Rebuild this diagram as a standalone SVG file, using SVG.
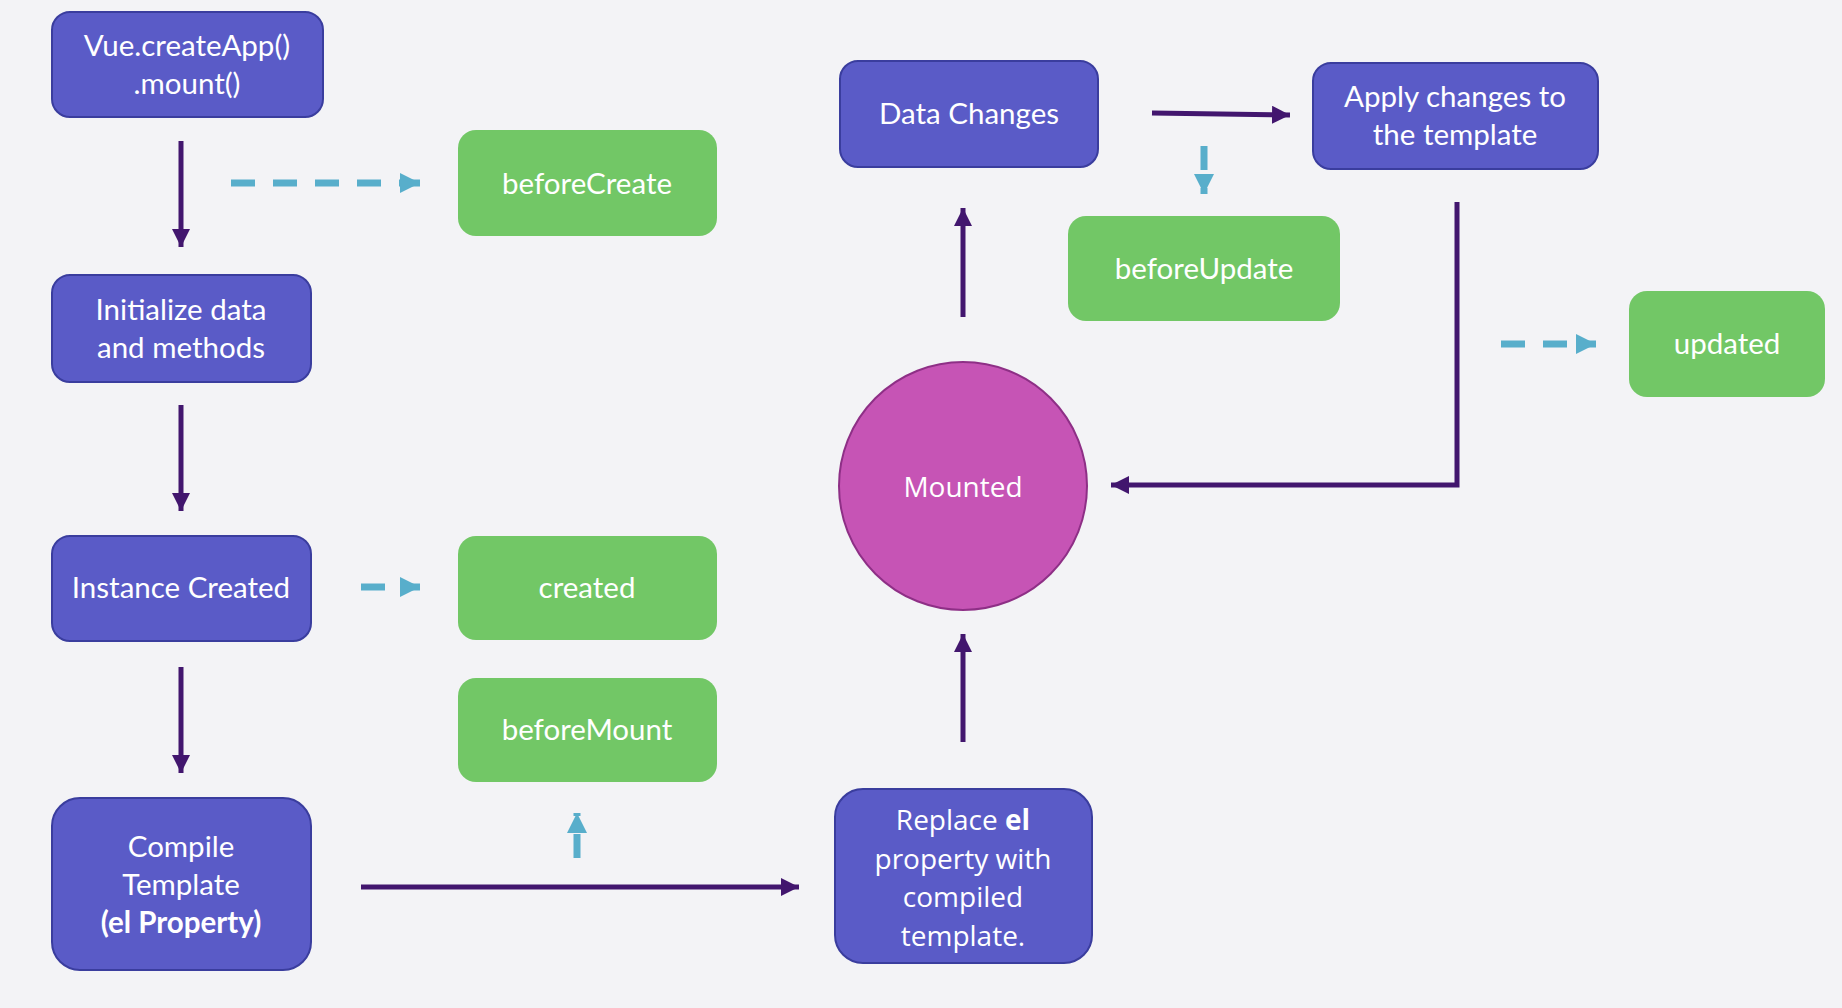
<svg xmlns="http://www.w3.org/2000/svg" width="1842" height="1008" viewBox="0 0 1842 1008">
<defs>
<style>
.bg{fill:#F3F3F6}
.blue{fill:#5A5BC7;stroke:#3A3D9E;stroke-width:2}
.green{fill:#72C766}
.mount{fill:#C654B5;stroke:#8E2F86;stroke-width:2}
.t{font-family:Lato,"Liberation Sans",sans-serif;font-size:29.5px;fill:#FFFFFF;text-anchor:middle}
.t2{font-family:"Open Sans","Liberation Sans",sans-serif;font-size:28px;fill:#FFFFFF;text-anchor:middle}
.solid{stroke:#42166E;stroke-width:5;fill:none}
.dash{stroke:#58AECB;stroke-width:7;fill:none;stroke-dasharray:24 18}
</style>
<marker id="ap" markerUnits="userSpaceOnUse" markerWidth="20" markerHeight="20" refX="18" refY="9" orient="auto">
<path d="M0,0 L18,9 L0,18 z" fill="#42166E"/>
</marker>
<marker id="ab" markerUnits="userSpaceOnUse" markerWidth="22" markerHeight="22" refX="20" refY="10" orient="auto">
<path d="M0,0 L20,10 L0,20 z" fill="#58AECB"/>
</marker>
</defs>
<rect class="bg" x="0" y="0" width="1842" height="1008"/>

<g id="connectors">
<line class="solid" x1="181" y1="141" x2="181" y2="247" marker-end="url(#ap)"/>
<line class="solid" x1="181" y1="405" x2="181" y2="511" marker-end="url(#ap)"/>
<line class="solid" x1="181" y1="667" x2="181" y2="773" marker-end="url(#ap)"/>
<line class="solid" x1="361" y1="887" x2="799" y2="887" marker-end="url(#ap)"/>
<line class="solid" x1="963" y1="742" x2="963" y2="634" marker-end="url(#ap)"/>
<line class="solid" x1="963" y1="317" x2="963" y2="208" marker-end="url(#ap)"/>
<line class="solid" x1="1152" y1="113" x2="1290" y2="115" marker-end="url(#ap)" stroke-width="6"/>
<polyline class="solid" points="1457,202 1457,485 1111,485" marker-end="url(#ap)"/>
<line class="dash" x1="231" y1="183" x2="420" y2="183" marker-end="url(#ab)"/>
<line class="dash" x1="361" y1="587" x2="420" y2="587" marker-end="url(#ab)"/>
<line class="dash" x1="577" y1="858" x2="577" y2="813" marker-end="url(#ab)"/>
<line class="dash" x1="1204" y1="146" x2="1204" y2="194" marker-end="url(#ab)"/>
<line class="dash" x1="1501" y1="344" x2="1596" y2="344" marker-end="url(#ab)"/>
</g>

<g id="n-create">
<rect class="blue" x="52" y="12" width="271" height="105" rx="18"/>
<text class="t" x="187" y="56">Vue.createApp()</text>
<text class="t" x="187" y="94">.mount()</text>
</g>
<g id="n-beforeCreate">
<rect class="green" x="458" y="130" width="259" height="106" rx="18"/>
<text class="t" x="587" y="194">beforeCreate</text>
</g>
<g id="n-init">
<rect class="blue" x="52" y="275" width="259" height="107" rx="18"/>
<text class="t" x="181" y="320">Initialize data</text>
<text class="t" x="181" y="358">and methods</text>
</g>
<g id="n-instance">
<rect class="blue" x="52" y="536" width="259" height="105" rx="18"/>
<text class="t" x="181" y="598">Instance Created</text>
</g>
<g id="n-created">
<rect class="green" x="458" y="536" width="259" height="104" rx="18"/>
<text class="t" x="587" y="598">created</text>
</g>
<g id="n-beforeMount">
<rect class="green" x="458" y="678" width="259" height="104" rx="18"/>
<text class="t" x="587" y="740">beforeMount</text>
</g>
<g id="n-compile">
<rect class="blue" x="52" y="798" width="259" height="172" rx="28"/>
<text class="t" x="181" y="857">Compile</text>
<text class="t" x="181" y="895">Template</text>
<text class="t" x="181" y="933" font-weight="bold">(el Property)</text>
</g>
<g id="n-replace">
<rect class="blue" x="835" y="789" width="257" height="174" rx="28"/>
<text class="t2" x="963" y="830">Replace <tspan font-weight="bold">el</tspan></text>
<text class="t2" x="963" y="869">property with</text>
<text class="t2" x="963" y="907">compiled</text>
<text class="t2" x="963" y="946">template.</text>
</g>
<g id="n-mounted">
<circle class="mount" cx="963" cy="486" r="124"/>
<text class="t2" x="963" y="497">Mounted</text>
</g>
<g id="n-dataChanges">
<rect class="blue" x="840" y="61" width="258" height="106" rx="18"/>
<text class="t" x="969" y="124">Data Changes</text>
</g>
<g id="n-apply">
<rect class="blue" x="1313" y="63" width="285" height="106" rx="18"/>
<text class="t" x="1455" y="107">Apply changes to</text>
<text class="t" x="1455" y="145">the template</text>
</g>
<g id="n-beforeUpdate">
<rect class="green" x="1068" y="216" width="272" height="105" rx="18"/>
<text class="t" x="1204" y="279">beforeUpdate</text>
</g>
<g id="n-updated">
<rect class="green" x="1629" y="291" width="196" height="106" rx="18"/>
<text class="t" x="1727" y="354">updated</text>
</g>
</svg>
